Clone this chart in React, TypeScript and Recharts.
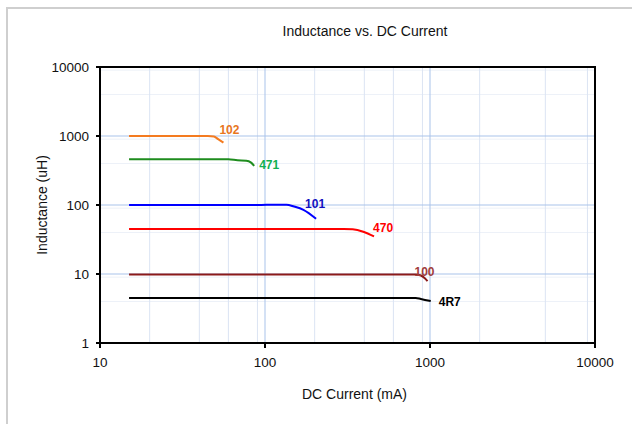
import React from 'react';
import {
  LineChart,
  Line,
  XAxis,
  YAxis,
  CartesianGrid,
  ReferenceArea,
} from 'recharts';

// ---- Data (DC current in mA, inductance in uH) ----
const s102 = [
  { x: 15, y: 1000 },
  { x: 45, y: 1000 },
  { x: 49, y: 985 },
  { x: 52, y: 900 },
  { x: 56, y: 800 },
];
const s471 = [
  { x: 15, y: 460 },
  { x: 60, y: 460 },
  { x: 68, y: 445 },
  { x: 77, y: 438 },
  { x: 82, y: 415 },
  { x: 86, y: 370 },
];
const s101 = [
  { x: 15, y: 100 },
  { x: 95, y: 100 },
  { x: 110, y: 101 },
  { x: 135, y: 101 },
  { x: 150, y: 95 },
  { x: 171, y: 85 },
  { x: 204, y: 63 },
];
const s470 = [
  { x: 15, y: 45 },
  { x: 300, y: 45 },
  { x: 340, y: 44.5 },
  { x: 394, y: 41 },
  { x: 458, y: 35 },
];
const s100 = [
  { x: 15, y: 9.8 },
  { x: 820, y: 9.8 },
  { x: 880, y: 9.5 },
  { x: 930, y: 8.7 },
  { x: 966, y: 7.9 },
];
const s4R7 = [
  { x: 15, y: 4.5 },
  { x: 820, y: 4.5 },
  { x: 880, y: 4.35 },
  { x: 1010, y: 4.05 },
];

const xTicks = [10, 100, 1000, 10000];
const yTicks = [1, 10, 100, 1000, 10000];
const xMinor = [20, 30, 40, 50, 60, 70, 80, 90, 200, 300, 400, 500, 600, 700, 800, 900, 2000, 3000, 4000, 5000, 6000, 7000, 8000, 9000];
const yMinor = [2, 3, 4, 5, 6, 7, 8, 9, 20, 30, 40, 50, 60, 70, 80, 90, 200, 300, 400, 500, 600, 700, 800, 900, 2000, 3000, 4000, 5000, 6000, 7000, 8000, 9000];

const FONT = '"Liberation Sans", Arial, sans-serif';

const endLabel = (text: string, color: string, len: number, dx: number, dy: number) =>
  (props: any) => {
    if (props.index !== len - 1) return <g />;
    return (
      <text
        x={props.x + dx}
        y={props.y + dy}
        fill={color}
        fontSize={12}
        fontWeight="bold"
        fontFamily={FONT}
        textAnchor="start"
        dominantBaseline="central"
      >
        {text}
      </text>
    );
  };

const series = [
  { name: '102', data: s102, stroke: '#f47b20', label: '#e8761e', dx: -4, dy: -13 },
  { name: '471', data: s471, stroke: '#1e8c1e', label: '#10b050', dx: 5, dy: -1 },
  { name: '101', data: s101, stroke: '#0000ff', label: '#1010c0', dx: -11, dy: -15 },
  { name: '470', data: s470, stroke: '#ff0000', label: '#ff0000', dx: -1, dy: -8 },
  { name: '100', data: s100, stroke: '#8b1a1a', label: '#a03c3c', dx: -13, dy: -9 },
  { name: '4R7', data: s4R7, stroke: '#000000', label: '#000000', dx: 8, dy: 1 },
];

export default function App() {
  return (
    <div
      style={{
        position: 'absolute',
        left: 0,
        top: 0,
        width: 632,
        height: 424,
        overflow: 'hidden',
        background: '#fff',
        fontFamily: FONT,
      }}
    >
      <div
        style={{
          position: 'absolute',
          left: 6,
          top: 7,
          width: 660,
          height: 460,
          border: '2px solid #cfcfcf',
        }}
      />
      <div
        style={{
          position: 'absolute',
          left: 215,
          top: 23,
          width: 300,
          textAlign: 'center',
          fontSize: 14,
          lineHeight: '16px',
          color: '#111',
        }}
      >
        Inductance vs. DC Current
      </div>
      <LineChart
        width={632}
        height={424}
        margin={{ top: 67, right: 37, bottom: 51, left: 40 }}
        style={{ position: 'absolute', left: 0, top: 0 }}
      >
        <CartesianGrid
          horizontalValues={yMinor}
          vertical={false}
          stroke="#edf1f8"
          strokeWidth={1}
        />
        <CartesianGrid
          horizontal={false}
          verticalValues={xMinor}
          stroke="#dbe4f3"
          strokeWidth={1}
        />
        <CartesianGrid
          horizontalValues={yTicks}
          verticalValues={xTicks}
          stroke="#a9c3ea"
          strokeWidth={1}
        />
        <XAxis
          dataKey="x"
          type="number"
          scale="log"
          domain={[10, 10000]}
          ticks={xTicks}
          allowDataOverflow
          height={30}
          tickSize={5}
          tickMargin={9}
          stroke="#000"
          strokeWidth={2}
          tick={{ fill: '#111', fontSize: 13.5, fontFamily: FONT }}
          label={{
            value: 'DC Current (mA)',
            content: (p: any) => {
              const vb = p.viewBox;
              return (
                <text
                  x={vb.x + vb.width / 2 + 7}
                  y={vb.y + vb.height + 21}
                  textAnchor="middle"
                  dominantBaseline="central"
                  fontSize={14}
                  fontFamily={FONT}
                  fill="#111"
                >
                  DC Current (mA)
                </text>
              );
            },
          }}
        />
        <YAxis
          type="number"
          scale="log"
          domain={[1, 10000]}
          ticks={yTicks}
          allowDataOverflow
          width={60}
          tickSize={4}
          tickMargin={7}
          stroke="#000"
          strokeWidth={2}
          tick={{ fill: '#111', fontSize: 13.5, fontFamily: FONT }}
          label={{
            value: 'Inductance (uH)',
            content: (p: any) => {
              const vb = p.viewBox;
              const cx = vb.x + 2;
              const cy = vb.y + vb.height / 2;
              return (
                <text
                  x={cx}
                  y={cy}
                  transform={`rotate(-90, ${cx}, ${cy})`}
                  textAnchor="middle"
                  dominantBaseline="central"
                  fontSize={14}
                  fontFamily={FONT}
                  fill="#111"
                >
                  Inductance (uH)
                </text>
              );
            },
          }}
        />
        <ReferenceArea
          x1={10}
          x2={10000}
          y1={1}
          y2={10000}
          fill="none"
          fillOpacity={0}
          stroke="#000"
          strokeWidth={2}
        />
        {series.map((s) => (
          <Line
            key={s.name}
            data={s.data}
            dataKey="y"
            type="monotone"
            stroke={s.stroke}
            strokeWidth={2}
            dot={false}
            activeDot={false}
            isAnimationActive={false}
            label={endLabel(s.name, s.label, s.data.length, s.dx, s.dy)}
          />
        ))}
      </LineChart>
    </div>
  );
}
